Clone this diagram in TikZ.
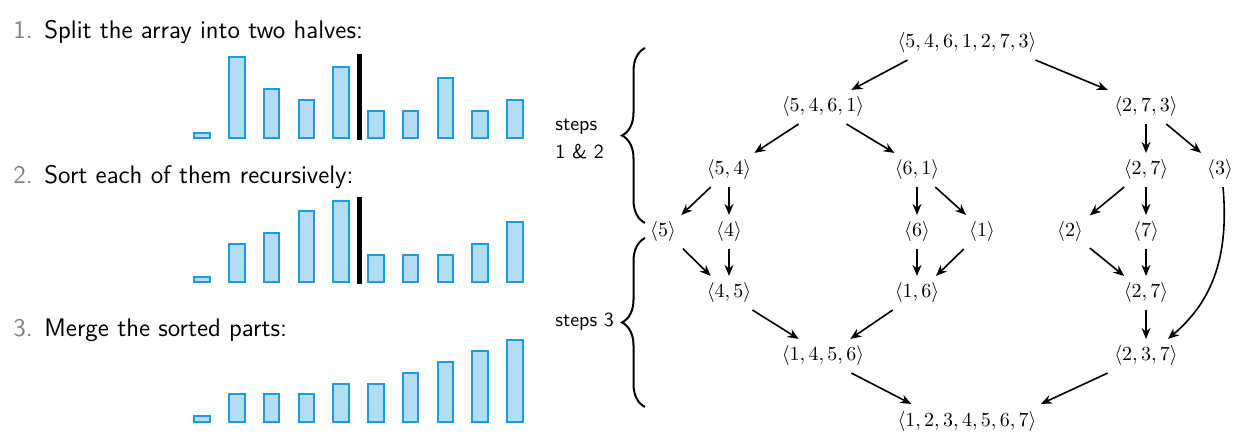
\documentclass[tikz,border=0pt]{standalone}
\usepackage{xcolor}
\usepackage{tikz}
\usetikzlibrary{arrows.meta, positioning, decorations.pathreplacing}
\definecolor{barline}{HTML}{1C9BE2}
\definecolor{barfill}{HTML}{B3DCF5}
\definecolor{numgray}{HTML}{808080}

\begin{document}
\begin{tikzpicture}[
  x=0.5pt, y=-0.5pt,
  tnode/.style={inner sep=0.3333em},
  arr/.style={-{Stealth[length=5.5pt,width=4.5pt]}, thick},
  bar/.style={draw=barline, fill=barfill, line width=1pt},
  splitline/.style={line width=2.5pt, black},
  brc/.style={decorate, decoration={brace, amplitude=11.5pt}, line width=1pt},
  steptext/.style={anchor=base west, inner sep=0pt, font=\sffamily\fontsize{12.7}{15}\selectfont},
  stepnum/.style={steptext, text=numgray}
]
  \useasboundingbox (0,0) rectangle (1245,437);

  % left: the three steps
  \node[stepnum] (n1) at (13,38.5) {1.};
  \node[steptext] (t1) at (44,38.5) {Split the array into two halves:};
  \node[stepnum] (n2) at (13,184) {2.};
  \node[steptext] (t2) at (44,184) {Sort each of them recursively:};
  \node[stepnum] (n3) at (13,337) {3.};
  \node[steptext] (t3) at (44,337) {Merge the sorted parts:};

  % bars
  \foreach \base/\vals in {139.3/{0,7,4,3,6,2,2,5,2,3},
                           283.3/{0,3,4,6,7,2,2,2,3,5},
                           422.7/{0,2,2,2,3,3,4,5,6,7}} {
    \foreach \v [count=\i] in \vals
      \draw[bar] ({194.45+(\i-1)*34.75}, \base-1) rectangle ++(15.5, {-(\v+0.5)*10.9});
  }
  \draw[splitline] (359.5,140) -- (359.5,54);
  \draw[splitline] (359.5,284) -- (359.5,197.3);

  % braces
  \draw[brc] (645,223) -- (645,48);
  \draw[brc] (645,407) -- (645,238);
  \node[font=\sffamily, align=left, anchor=west, inner sep=0pt] (lab12) at (555,139) {steps\\[2pt]1 \& 2};
  \node[font=\sffamily, anchor=base west, inner sep=0pt] (lab3) at (555,327) {steps 3};

  % recursion tree
  \node[tnode] (root) at (967,43) {$\langle 5,4,6,1,2,7,3\rangle$};
  \node[tnode] (a) at (823,107) {$\langle 5,4,6,1\rangle$};
  \node[tnode] (b) at (1146,107) {$\langle 2,7,3\rangle$};
  \node[tnode] (a1) at (729,170) {$\langle 5,4\rangle$};
  \node[tnode] (a2) at (917,170) {$\langle 6,1\rangle$};
  \node[tnode] (b1) at (1146,170) {$\langle 2,7\rangle$};
  \node[tnode] (b2) at (1220,170) {$\langle 3\rangle$};
  \node[tnode] (a11) at (663,232) {$\langle 5\rangle$};
  \node[tnode] (a12) at (729,232) {$\langle 4\rangle$};
  \node[tnode] (a21) at (917,232) {$\langle 6\rangle$};
  \node[tnode] (a22) at (982,232) {$\langle 1\rangle$};
  \node[tnode] (b11) at (1070,232) {$\langle 2\rangle$};
  \node[tnode] (b12) at (1146,232) {$\langle 7\rangle$};
  \node[tnode] (ma1) at (729,293) {$\langle 4,5\rangle$};
  \node[tnode] (ma2) at (917,293) {$\langle 1,6\rangle$};
  \node[tnode] (mb1) at (1146,293) {$\langle 2,7\rangle$};
  \node[tnode] (ma) at (823,356) {$\langle 1,4,5,6\rangle$};
  \node[tnode] (mb) at (1146,356) {$\langle 2,3,7\rangle$};
  \node[tnode] (sorted) at (967,421) {$\langle 1,2,3,4,5,6,7\rangle$};

  % splitting
  \draw[arr] (root.196) -- (a.31);
  \draw[arr] (root.-14) -- (b.156);
  \draw[arr] (a.215) -- (a1.34);
  \draw[arr] (a.-36) -- (a2.143);
  \draw[arr] (b.south) -- (b1.north);
  \draw[arr] (b.-40) -- (b2.138);
  \draw[arr] (a1.223) -- (a11.43);
  \draw[arr] (a1.south) -- (a12.north);
  \draw[arr] (a2.south) -- (a21.north);
  \draw[arr] (a2.-43) -- (a22.133);
  \draw[arr] (b1.218) -- (b11.40);
  \draw[arr] (b1.south) -- (b12.north);

  % merging
  \draw[arr] (a11.-40) -- (ma1.137);
  \draw[arr] (a12.south) -- (ma1.north);
  \draw[arr] (a21.south) -- (ma2.north);
  \draw[arr] (a22.223) -- (ma2.42);
  \draw[arr] (b11.-39) -- (mb1.142);
  \draw[arr] (b12.south) -- (mb1.north);
  \draw[arr] (ma1.-36) -- (ma.145);
  \draw[arr] (ma2.215) -- (ma.32);
  \draw[arr] (mb1.south) -- (mb.north);
  \draw[arr] (b2.-80) to[out=-85, in=40] (mb.38);
  \draw[arr] (ma.-31) -- (sorted.163);
  \draw[arr] (mb.204) -- (sorted.13);
\end{tikzpicture}
\end{document}
